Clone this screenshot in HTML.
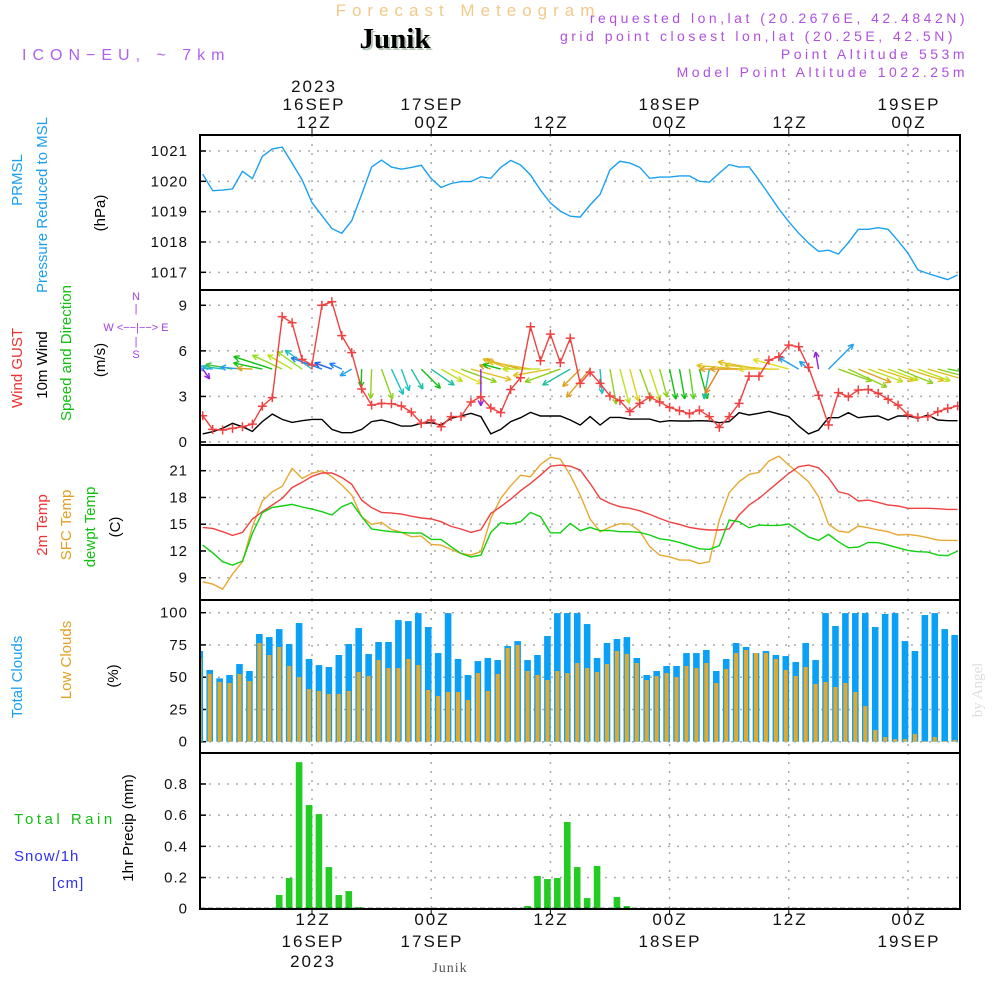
<!DOCTYPE html>
<html><head><meta charset="utf-8"><style>
html,body{margin:0;padding:0;background:#fff;}
svg{display:block;font-family:"Liberation Sans",sans-serif;}
</style></head><body>
<svg id="chart" width="1000" height="1000" viewBox="0 0 1000 1000" xmlns="http://www.w3.org/2000/svg">
<rect x="0" y="0" width="1000" height="1000" fill="#fff"/>
<text x="468" y="16" text-anchor="middle" font-size="17" letter-spacing="6" fill="#f2c98a">Forecast Meteogram</text>
<text x="397" y="50" text-anchor="middle" font-size="29" font-weight="bold" font-family="Liberation Serif,serif" fill="#b8c8b8">Junik</text>
<text x="395" y="48" text-anchor="middle" font-size="29" font-weight="bold" font-family="Liberation Serif,serif" fill="#000">Junik</text>
<text x="22" y="60" font-size="16" letter-spacing="6" fill="#b060f0">ICON−EU, ~ 7km</text>
<g font-size="14" letter-spacing="3.5" fill="#b050e0" text-anchor="end">
<text x="968" y="23">requested lon,lat (20.2676E, 42.4842N)</text>
<text x="956" y="41">grid point closest lon,lat (20.25E, 42.5N)</text>
<text x="968" y="59">Point Altitude 553m</text>
<text x="968" y="77">Model Point Altitude 1022.25m</text>
</g>
<g font-size="17" letter-spacing="2" fill="#111" text-anchor="middle">
<text x="314" y="92">2023</text><text x="314" y="110">16SEP</text><text x="314" y="128">12Z</text>
<text x="432" y="110">17SEP</text><text x="432" y="128">00Z</text>
<text x="551" y="128">12Z</text>
<text x="670" y="110">18SEP</text><text x="670" y="128">00Z</text>
<text x="790" y="128">12Z</text>
<text x="909" y="110">19SEP</text><text x="909" y="128">00Z</text>
</g>
<g font-size="17" letter-spacing="2" fill="#111" text-anchor="middle">
<text x="313" y="925">12Z</text><text x="313" y="947">16SEP</text><text x="313" y="967">2023</text>
<text x="432" y="925">00Z</text><text x="432" y="947">17SEP</text>
<text x="551" y="925">12Z</text>
<text x="670" y="925">00Z</text><text x="670" y="947">18SEP</text>
<text x="790" y="925">12Z</text>
<text x="909" y="925">00Z</text><text x="909" y="947">19SEP</text>
</g>
<text x="450" y="972" text-anchor="middle" font-size="14" letter-spacing="1" font-family="Liberation Serif,serif" fill="#555">Junik</text>
<text transform="translate(982,690) rotate(-90)" text-anchor="middle" font-size="15" font-family="Liberation Serif,serif" fill="#ddd">by Angel</text>

<g font-size="15" text-anchor="middle">
<text transform="translate(22,180) rotate(-90)" fill="#1aa0f0">PRMSL</text>
<text transform="translate(47,205) rotate(-90)" fill="#1aa0f0">Pressure Reduced to MSL</text>
<text transform="translate(105,213) rotate(-90)" fill="#000">(hPa)</text>
<text transform="translate(22,368) rotate(-90)" fill="#f03030">Wind GUST</text>
<text transform="translate(47,365) rotate(-90)" fill="#000">10m Wind</text>
<text transform="translate(71,353) rotate(-90)" fill="#10c010">Speed and Direction</text>
<text transform="translate(105,360) rotate(-90)" fill="#000">(m/s)</text>
<text transform="translate(47,525) rotate(-90)" fill="#f03030">2m Temp</text>
<text transform="translate(71,525) rotate(-90)" fill="#e0a020">SFC Temp</text>
<text transform="translate(95,527) rotate(-90)" fill="#10c010">dewpt Temp</text>
<text transform="translate(120,527) rotate(-90)" fill="#000">(C)</text>
<text transform="translate(22,677) rotate(-90)" fill="#1aa0f0">Total Clouds</text>
<text transform="translate(71,660) rotate(-90)" fill="#e0a020">Low Clouds</text>
<text transform="translate(118,676) rotate(-90)" fill="#000">(%)</text>
<text transform="translate(133,828) rotate(-90)" fill="#000">1hr Precip (mm)</text>
</g>
<g font-size="15">
<text x="14" y="824" letter-spacing="3.5" fill="#10c010">Total  Rain</text>
<text x="14" y="861" letter-spacing="1" fill="#3030f0">Snow/1h</text>
<text x="52" y="888" letter-spacing="1" fill="#3030f0">[cm]</text>
</g>
<g font-size="11" fill="#a040e0" text-anchor="middle">
<text x="136" y="300">N</text>
<text x="136" y="331">W &lt;−−|−−&gt; E</text>
<text x="136" y="312">|</text><text x="136" y="345">|</text>
<text x="136" y="358">S</text>
</g>
<g id="plots"></g>
</svg>
<script>
const pressure=[1020.24,1019.69,1019.71,1019.75,1020.33,1020.09,1020.82,1021.07,1021.13,1020.6,1020.05,1019.3,1018.87,1018.44,1018.29,1018.7,1019.57,1020.47,1020.7,1020.47,1020.4,1020.46,1020.53,1020.09,1019.8,1019.93,1019.99,1019.99,1020.15,1020.1,1020.46,1020.69,1020.54,1020.21,1019.71,1019.29,1019.02,1018.85,1018.82,1019.22,1019.57,1020.38,1020.66,1020.6,1020.46,1020.1,1020.14,1020.14,1020.18,1020.18,1020.0,1019.97,1020.27,1020.55,1020.47,1020.48,1020.04,1019.57,1019.09,1018.67,1018.29,1017.96,1017.69,1017.73,1017.6,1017.98,1018.42,1018.42,1018.47,1018.42,1018.04,1017.63,1017.08,1016.96,1016.86,1016.76,1016.91];
const gust=[1.73,0.83,0.79,0.9,1.0,1.18,2.35,2.92,8.25,7.85,5.44,5.07,9.0,9.23,7.0,5.88,3.49,2.43,2.54,2.52,2.37,1.97,1.23,1.45,1.0,1.67,1.67,2.63,2.98,2.24,1.93,3.46,4.23,7.59,5.35,7.1,5.22,6.84,3.86,4.6,3.86,3.03,2.72,2.0,2.54,2.96,2.63,2.28,2.06,1.86,2.1,1.67,0.96,1.67,2.54,4.34,4.34,5.39,5.61,6.38,6.27,4.91,3.07,1.12,3.25,2.98,3.42,3.46,3.2,2.81,2.43,1.78,1.62,1.67,2.0,2.21,2.37];
const wind=[0.53,0.68,0.9,1.23,1.0,0.7,1.34,1.84,1.49,1.29,1.4,1.49,1.49,0.83,0.61,0.61,0.83,1.34,1.45,1.27,1.05,1.05,1.23,1.27,1.12,1.56,1.71,1.89,1.67,0.53,0.83,1.34,1.6,1.95,1.71,1.71,1.71,1.45,1.12,1.67,1.12,1.62,1.62,1.51,1.51,1.51,1.32,1.4,1.38,1.38,1.4,1.38,1.27,1.34,1.93,1.78,1.89,2.02,1.84,1.67,1.05,0.53,0.79,1.6,1.6,1.93,1.6,1.67,1.71,1.45,1.71,1.71,1.56,1.78,1.45,1.4,1.4];
const windDir=[55,185,188,190,185,183,192,198,205,210,215,215,200,200,205,150,92,92,70,65,70,60,45,35,30,25,20,15,90,200,195,200,195,190,180,170,160,150,135,130,85,80,75,75,70,72,75,78,80,82,75,100,120,180,185,180,190,185,180,195,210,220,260,315,20,25,22,20,18,20,22,18,20,16,15,10,5];
const windColor=["#9020e0","#20a0f0","#20c0c0","#40c040","#20a0f0","#e0a020","#10c010","#10c010","#90e020","#c0e020","#90e020","#20c0c0","#2080f0","#2060f0","#2080f0","#20a0f0","#10c010","#90d020","#90d020","#20c0c0","#20c0c0","#20c0a0","#10c010","#20c0a0","#c0e020","#e0e020","#90d020","#e0c020","#9020e0","#e0a020","#10c010","#e0c020","#e0a020","#e0c020","#c0e020","#e0c020","#90d020","#20c0a0","#e0a020","#e0a020","#20c0c0","#90d020","#c0e020","#e0d020","#90d020","#c0e020","#90d020","#10c010","#10c010","#60d020","#10c010","#20c0a0","#e08020","#e0a020","#e0c020","#e0a020","#e0c020","#e0c020","#e0d020","#e0e020","#20a0f0","#20a0f0","#9020e0","#20a0f0","#90d020","#90d020","#e0a020","#c0e020","#e0c020","#c0e020","#90d020","#e0c020","#c0e020","#e0c020","#90d020","#60d020","#10c010"];
const temp2m=[14.64,14.53,14.16,13.75,14.08,15.58,16.4,17.15,17.9,19.1,19.7,20.36,20.74,20.74,20.25,19.47,17.7,16.85,16.33,16.25,16.14,15.9,15.7,15.58,15.28,14.76,14.46,14.08,14.38,16.2,16.96,17.8,18.76,19.58,20.5,21.5,21.63,21.5,21.07,19.58,17.9,17.33,16.96,16.78,16.5,16.1,15.65,15.24,14.98,14.64,14.46,14.35,14.35,14.46,16.03,17.15,17.9,18.83,19.77,20.7,21.45,21.63,21.33,20.2,18.64,18.38,17.6,17.7,17.45,17.15,17.04,16.78,16.78,16.78,16.74,16.66,16.66];
const sfcTemp=[8.55,8.29,7.73,9.41,10.8,14.72,17.6,18.64,19.24,21.26,20.14,20.7,21.0,20.33,19.4,18.27,15.84,14.98,15.2,14.42,14.08,13.6,13.67,12.74,12.66,12.18,11.73,11.54,11.92,15.65,17.9,19.32,20.5,20.33,21.7,22.5,22.3,20.5,18.27,15.58,14.16,14.68,15.06,15.0,14.23,12.48,11.54,11.35,10.98,10.98,10.57,10.8,15.47,18.53,19.77,20.59,20.81,22.08,22.64,21.63,20.7,19.77,18.08,15.0,14.23,14.08,14.8,14.6,14.35,14.16,13.79,13.86,13.71,13.49,13.22,13.19,13.19];
const dewpt=[12.66,11.8,10.8,10.42,10.87,13.97,16.29,16.89,17.04,17.22,16.93,16.7,16.4,16.03,16.96,17.41,15.84,14.46,14.31,14.16,14.08,14.0,14.0,13.3,13.3,12.48,11.73,11.32,11.54,14.08,15.17,15.02,15.28,16.33,15.84,14.04,14.04,15.09,14.27,14.64,14.27,14.31,14.16,14.16,14.08,13.79,13.37,13.22,12.96,12.59,12.25,12.18,12.59,15.47,15.28,14.6,14.9,14.87,14.87,15.02,14.31,13.56,13.19,13.86,13.04,12.36,12.44,12.96,12.93,12.66,12.36,12.07,11.92,11.88,11.54,11.47,12.0];
const totalClouds=[70.3,55.6,49.1,51.7,60.2,54.8,83.5,81.1,87.3,75.7,92,64.1,59.4,57.9,67.2,75.7,88.1,68,77.3,77.3,94.3,93.5,99.7,88.9,68.7,99.7,64.1,51.7,62.5,64.9,63.3,74.2,78,63.3,67.2,81.9,99.7,99.7,99.7,91.2,64.9,76.5,79.6,81.1,64.9,51.7,54.8,58.7,58.7,68.7,68.7,71.1,54.8,64.1,76.5,73.4,68.7,70.3,67.2,66.4,61.8,76.5,63.3,99.7,89.7,99.7,99.7,99.7,88.9,99,99.7,78,70.3,98.2,99.7,87.3,82.7];
const lowClouds=[64.9,52.5,46.3,45.5,52.5,47,76.5,67.2,73.4,58.7,50.1,40.8,39.3,37,37,39.3,54,50.9,63.3,57.1,57.1,64.1,59.4,40.1,35.4,38.5,38.5,32.3,53.2,39.3,52.5,72.6,74.9,54.8,51.7,47.8,54.8,53.2,61,57.1,54,60.2,70.3,68,61,47.8,50.9,53.2,50.1,58.7,57.1,61,45.5,56.3,68.7,71.1,68.7,68.7,64.1,55.6,50.9,57.9,44.7,46.3,42.4,45.5,38.5,27.6,9,3.6,2,2,5.9,0.5,3.6,0.5,1.3];
const precip=[0,0,0,0,0,0,0,0,0.088,0.197,0.94,0.665,0.607,0.267,0.088,0.113,0.01,0,0,0,0,0,0,0,0,0,0,0,0,0,0,0,0,0.017,0.21,0.19,0.197,0.556,0.267,0.068,0.274,0,0.075,0.017,0,0,0,0,0,0,0,0,0,0,0,0,0,0,0,0,0,0,0,0,0,0,0,0,0,0,0,0,0,0,0,0,0];
const pTicks=[1021,1020,1019,1018,1017];
const wTicks=[9,6,3,0];
const tTicks=[21,18,15,12,9];
const cTicks=[100,75,50,25,0];
const rTicks=[0.8,0.6,0.4,0.2,0];
const rTickLabels=["0.8","0.6","0.4","0.2","0"];
const gridHours=[11,23,35,47,59,71];

const X0=200,X1=960;
const x=h=>312+(h-11)*9.933;
const yP=v=>151+(1021-v)*30.33;
const yW=v=>442-v*15.19;
const yT=v=>470.7+(21-v)*8.92;
const yC=v=>741.7-v*1.29;
const yR=v=>908.7-v*155.9;
const NS="http://www.w3.org/2000/svg";
const plots=document.getElementById('plots');
function mk(tag,attrs,parent){const e=document.createElementNS(NS,tag);for(const k in attrs)e.setAttribute(k,attrs[k]);(parent||plots).appendChild(e);return e;}
const clip=mk('clipPath',{id:'pc'});mk('rect',{x:X0,y:130,width:X1-X0,height:785},clip);

const panels=[{top:135,bot:290,ticks:pTicks,labels:pTicks.map(String),y:yP,name:'pressure'},
{top:290,bot:445,ticks:wTicks,labels:wTicks.map(String),y:yW,name:'wind'},
{top:445,bot:600,ticks:tTicks,labels:tTicks.map(String),y:yT,name:'temperature'},
{top:600,bot:753,ticks:cTicks,labels:cTicks.map(String),y:yC,name:'clouds'},
{top:753,bot:909,ticks:rTicks,labels:rTickLabels,y:yR,name:'precip'}];
panels.forEach(p=>{
  const g=mk('g',{});
  
  
  p.ticks.forEach((t,k)=>{
    const yy=p.y(t);
    mk('line',{x1:X0,x2:X1,y1:yy,y2:yy,stroke:'#aaa','stroke-width':1.5,'stroke-dasharray':'2,7'},g);
    mk('line',{x1:X0,x2:X0+6,y1:yy,y2:yy,stroke:'#000','stroke-width':1.5},g);
    const tx=mk('text',{x:188,y:yy+5,'text-anchor':'end','font-size':15,'letter-spacing':1,fill:'#111'},g);
    tx.textContent=p.labels[k];
    
    
  });
  gridHours.forEach(h=>{mk('line',{x1:x(h),x2:x(h),y1:p.top,y2:p.bot,stroke:'#aaa','stroke-width':1.5,'stroke-dasharray':'2,7'},g);});
});
gridHours.forEach(h=>{mk('line',{x1:x(h),x2:x(h),y1:128,y2:135,stroke:'#000','stroke-width':1});mk('line',{x1:x(h),x2:x(h),y1:909,y2:915,stroke:'#000','stroke-width':1});});

const marks=mk('g',{'clip-path':'url(#pc)'});
function line(arr,yf,color,name){
  const pts=arr.map((v,i)=>x(i).toFixed(1)+','+yf(v).toFixed(1)).join(' ');
  const l=mk('polyline',{points:pts,fill:'none',stroke:color,'stroke-width':1.4},marks);
  
  
}
totalClouds.forEach((v,j)=>{
  const r=mk('rect',{x:x(j-0.3)-3.3,y:yC(v),width:6.6,height:yC(0)-yC(v),fill:'#0aa0f5'},marks);
  
  
});
lowClouds.forEach((v,j)=>{
  const r=mk('rect',{x:x(j-0.3)-2,y:yC(v),width:4,height:yC(0)-yC(v),fill:'#e6a82a'},marks);
  
  
});
precip.forEach((v,j)=>{
  if(v<=0)return;
  const r=mk('rect',{x:x(j-0.3)-3.3,y:yR(v),width:6.6,height:yR(0)-yR(v),fill:'#22cc22'},marks);
  
  
});
mk('line',{x1:X0,x2:X1,y1:yR(0),y2:yR(0),stroke:'#000','stroke-width':2,'stroke-dasharray':'5,3'},marks);
line(pressure,yP,'#1aa0f0','pressure-line');
line(sfcTemp,yT,'#e8a830','sfc-temp-line');
line(temp2m,yT,'#f04040','temp-2m-line');
line(dewpt,yT,'#10d010','dewpt-line');
line(wind,yW,'#000','wind-speed-line');
windDir.forEach((d,i)=>{
  const len=Math.max(12,22*wind[i]);
  const a=d*Math.PI/180;
  const x1=x(i),y1=yW(4.8),x2=x1+len*Math.cos(a),y2=y1+len*Math.sin(a);
  const g=mk('g',{stroke:windColor[i],'stroke-width':1.4,fill:'none'},marks);
  
  
  mk('line',{x1:x1,y1:y1,x2:x2,y2:y2},g);
  const h=6;
  [a+Math.PI-0.45,a+Math.PI+0.45].forEach(b=>mk('line',{x1:x2,y1:y2,x2:x2+h*Math.cos(b),y2:y2+h*Math.sin(b)},g));
});
line(gust,yW,'#f04040','gust-line');
gust.forEach((v,i)=>{
  const cx=x(i),cy=yW(v);
  const p=mk('path',{d:`M${cx-4.5},${cy}H${cx+4.5}M${cx},${cy-4.5}V${cy+4.5}`,stroke:'#f04040','stroke-width':1.5},marks);
  
  
});
panels.forEach(p=>{
  const r=mk('rect',{x:X0,y:p.top,width:X1-X0,height:p.bot-p.top,fill:'none',stroke:'#000','stroke-width':2});
  
  
});
</script>
</body></html>
